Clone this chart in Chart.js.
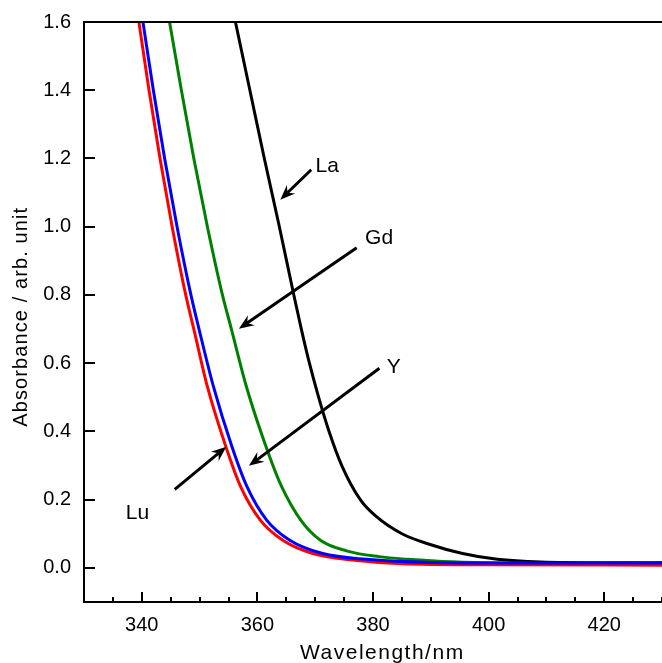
<!DOCTYPE html>
<html lang="en">
<head>
  <meta charset="UTF-8" />
  <title>Absorbance spectra</title>
  <script src="https://cdn.jsdelivr.net/npm/chart.js"></script>
  <style>
    html, body { margin: 0; padding: 0; background: #fff; }
    #wrap { width: 662px; height: 663px; position: relative; }
  </style>
</head>
<body>
  <div id="wrap"><canvas id="chartAbs"></canvas></div>

  <script>
    // spectra (wavelength in nm, absorbance)
    const laWl  = [356.2, 358.7, 361.2, 363.8, 366.3, 367.6, 369.0, 370.6, 372.4, 374.6, 377.8, 380.6, 385.0, 389.6, 395.5, 401.5, 409.0, 420.0, 430.0];
    const laAbs = [1.6, 1.4, 1.2, 1.0, 0.8, 0.7, 0.6, 0.5, 0.4, 0.3, 0.2, 0.15, 0.10, 0.07, 0.042, 0.025, 0.017, 0.015, 0.015];

    const gdWl  = [344.8, 346.85, 349.0, 351.35, 353.95, 355.5, 358.1, 361.9, 364.2, 367.5, 370.9, 375.4, 381.0, 386.0, 392.0, 400.0, 410.0, 430.0];
    const gdAbs = [1.6, 1.4, 1.2, 1.0, 0.8, 0.7, 0.531, 0.336, 0.238, 0.140, 0.081, 0.050, 0.033, 0.025, 0.019, 0.015, 0.013, 0.013];

    const yWl   = [340.2, 342.0, 343.95, 346.1, 348.5, 349.9, 352.4, 355.6, 358.2, 361.6, 365.6, 371.3, 378.8, 390.0, 410.0, 430.0];
    const yAbs  = [1.6, 1.4, 1.2, 1.0, 0.8, 0.7, 0.531, 0.355, 0.238, 0.140, 0.081, 0.042, 0.025, 0.016, 0.014, 0.014];

    const luWl  = [339.5, 341.25, 343.15, 345.25, 347.6, 349.0, 351.35, 354.55, 357.1, 360.5, 364.4, 369.6, 376.5, 385.0, 400.0, 430.0];
    const luAbs = [1.6, 1.4, 1.2, 1.0, 0.8, 0.7, 0.531, 0.355, 0.238, 0.140, 0.081, 0.042, 0.023, 0.012, 0.009, 0.008];

    const xTickLabels = [340, 360, 380, 400, 420];
    const yTickLabels = [0.0, 0.2, 0.4, 0.6, 0.8, 1.0, 1.2, 1.4, 1.6];

    // labels with arrows, in data units
    const notes = [
      { text: 'La', at: [370.05, 1.176], from: [369.31, 1.167], to: [363.96, 1.079] },
      { text: 'Gd', at: [378.63, 0.966], from: [377.18, 0.938], to: [356.80, 0.701] },
      { text: 'Y',  at: [382.37, 0.588], from: [381.11, 0.585], to: [358.53, 0.299] },
      { text: 'Lu', at: [337.24, 0.159], from: [345.70, 0.230], to: [354.63, 0.355] }
    ];

    const FONT = "'Liberation Sans', Arial, sans-serif";

    const toPoints = (wl, abs) => wl.map((w, i) => ({ x: w, y: abs[i] }));

    const line = (label, wl, abs, color) => ({
      label,
      data: toPoints(wl, abs),
      borderColor: color,
      borderWidth: 3,
      pointRadius: 0,
      showLine: true,
      fill: false,
      cubicInterpolationMode: 'monotone'
    });

    function drawArrow(ctx, x0, y0, x1, y1) {
      const dx = x1 - x0, dy = y1 - y0;
      const len = Math.hypot(dx, dy);
      const ux = dx / len, uy = dy / len;
      const nx = -uy, ny = ux;
      const L = 15, W = 6, notch = 5;
      ctx.lineWidth = 3;
      ctx.beginPath();
      ctx.moveTo(x0, y0);
      ctx.lineTo(x1 - ux * (L - notch), y1 - uy * (L - notch));
      ctx.stroke();
      ctx.beginPath();
      ctx.moveTo(x1, y1);
      ctx.lineTo(x1 - ux * L + nx * W, y1 - uy * L + ny * W);
      ctx.lineTo(x1 - ux * (L - notch), y1 - uy * (L - notch));
      ctx.lineTo(x1 - ux * L - nx * W, y1 - uy * L - ny * W);
      ctx.closePath();
      ctx.fill();
    }

    const extras = {
      id: 'extras',
      afterDraw(chart) {
        const { ctx, chartArea: a } = chart;
        const xs = chart.scales.x, ys = chart.scales.y;
        ctx.save();
        ctx.strokeStyle = '#000';
        ctx.fillStyle = '#000';

        // top frame
        ctx.lineWidth = 2;
        ctx.beginPath();
        ctx.moveTo(a.left, a.top);
        ctx.lineTo(a.right, a.top);
        ctx.stroke();

        // ticks pointing inward
        ctx.lineWidth = 2;
        xs.ticks.forEach(t => {
          const px = Math.round(xs.getPixelForValue(t.value));
          const len = xTickLabels.includes(t.value) ? 10 : 5;
          ctx.beginPath();
          ctx.moveTo(px, a.bottom);
          ctx.lineTo(px, a.bottom - len);
          ctx.stroke();
        });
        yTickLabels.forEach(v => {
          const py = Math.round(ys.getPixelForValue(v));
          ctx.beginPath();
          ctx.moveTo(a.left, py);
          ctx.lineTo(a.left + 11, py);
          ctx.stroke();
        });

        // axis titles
        ctx.font = '21px ' + FONT;
        ctx.letterSpacing = '1.5px';
        ctx.textAlign = 'left';
        ctx.textBaseline = 'alphabetic';
        ctx.fillText('Wavelength/nm', 300, 659);

        ctx.font = '20px ' + FONT;
        ctx.letterSpacing = '1.1px';
        ctx.save();
        ctx.translate(26.7, 426.7);
        ctx.rotate(-Math.PI / 2);
        ctx.fillText('Absorbance / arb. unit', 0, 0);
        ctx.restore();

        // arrows and their labels
        ctx.letterSpacing = '0px';
        ctx.font = '21px ' + FONT;
        ctx.textBaseline = 'middle';
        notes.forEach(n => {
          drawArrow(ctx,
            xs.getPixelForValue(n.from[0]), ys.getPixelForValue(n.from[1]),
            xs.getPixelForValue(n.to[0]), ys.getPixelForValue(n.to[1]));
          ctx.fillText(n.text, xs.getPixelForValue(n.at[0]), ys.getPixelForValue(n.at[1]));
        });
        ctx.restore();
      }
    };

    new Chart(document.getElementById('chartAbs'), {
      type: 'scatter',
      data: {
        datasets: [
          line('Y', yWl, yAbs, '#0000ff'),
          line('Lu', luWl, luAbs, '#ff0000'),
          line('Gd', gdWl, gdAbs, '#008000'),
          line('La', laWl, laAbs, '#000000')
        ]
      },
      options: {
        responsive: true,
        maintainAspectRatio: false,
        animation: false,
        layout: { autoPadding: false, padding: { top: 22, right: 0, bottom: 0, left: 0 } },
        plugins: {
          legend: { display: false },
          tooltip: { enabled: false }
        },
        scales: {
          x: {
            type: 'linear',
            min: 330,
            max: 430,
            afterFit: s => { s.height = 61; s.paddingLeft = 0; s.paddingRight = 0; },
            ticks: {
              stepSize: 5,
              autoSkip: false,
              maxRotation: 0,
              padding: 11,
              color: '#000',
              font: { family: FONT, size: 20 },
              callback: v => xTickLabels.includes(v) ? String(v) : ''
            },
            grid: { drawOnChartArea: false, drawTicks: false },
            border: { color: '#000', width: 2 }
          },
          y: {
            type: 'linear',
            min: -0.1,
            max: 1.6,
            afterFit: s => { s.width = 84; s.paddingTop = 0; s.paddingBottom = 0; },
            afterBuildTicks: s => { s.ticks = yTickLabels.map(v => ({ value: v })); },
            ticks: {
              padding: 13,
              color: '#000',
              font: { family: FONT, size: 20 },
              callback: v => v.toFixed(1)
            },
            grid: { drawOnChartArea: false, drawTicks: false },
            border: { color: '#000', width: 2 }
          }
        }
      },
      plugins: [extras]
    });
  </script>
</body>
</html>
